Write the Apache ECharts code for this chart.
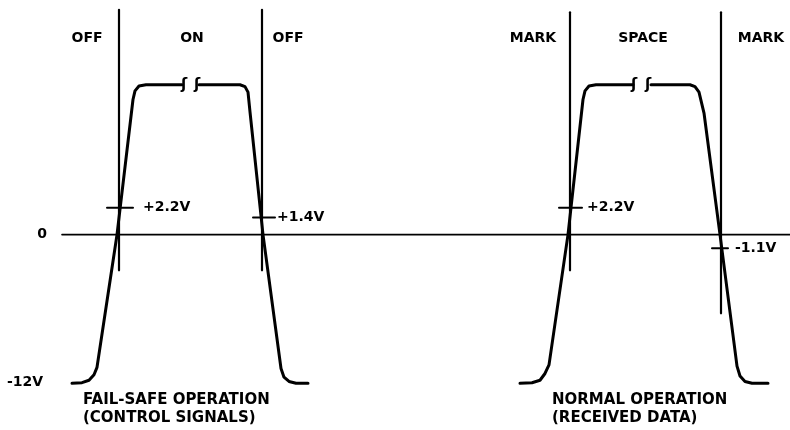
<!DOCTYPE html>
<html>
<head>
<meta charset="utf-8">
<script src="https://cdn.jsdelivr.net/npm/echarts@6/dist/echarts.min.js"></script>
<style>
  html, body { margin: 0; padding: 0; background: #fff; }
  #main { width: 790px; height: 430px; }
</style>
</head>
<body>
<div id="main"></div>
<script>
// x = time (arbitrary units), y = volts
var failSafeRise = [[72,-12.1],[82,-12.05],[89,-11.85],[94,-11.4],[97,-10.8],[117,0],[133,11.0],[135,11.7],[139,12.1],[146,12.2],[182,12.2]];
var failSafeFall = [[199,12.2],[240,12.2],[245,12.05],[248,11.6],[250,10.0],[263,0],[281,-10.9],[284,-11.6],[289,-11.95],[296,-12.1],[308,-12.1]];
var normalRise = [[520,-12.1],[532,-12.05],[540,-11.85],[545,-11.3],[549,-10.6],[568,0],[583,11.0],[585,11.7],[589,12.1],[596,12.2],[633,12.2]];
var normalFall = [[651,12.2],[690,12.2],[695,12.05],[699,11.6],[704,9.9],[720,0],[737,-10.7],[740,-11.5],[745,-11.95],[752,-12.1],[768,-12.1]];

// vertical state boundaries: [time, top volts, bottom volts]
var dividers = [[119,18.3,-2.9],[262,18.3,-2.9],[570,18.1,-2.9],[721,18.1,-6.4]];

// threshold crossings
var thresholdVolts = [2.2, 1.4, 2.2, -1.1];
var thresholdSpans = [[107,133],[253,275],[559,582],[712,728]];
var thresholdLabels = ['+2.2V', '+1.4V', '+2.2V', '-1.1V'];
var thresholdLabelTimes = [143, 277, 587, 735];

var stateLabels = ['OFF', 'ON', 'OFF', 'MARK', 'SPACE', 'MARK'];
var stateTimes = [87, 192, 288, 533, 643, 761];
var stateLevel = 16;

var zeroLine = [[62,0],[790,0]];
var levelLabels = ['0', '-12V'];
var levelTimes = [42, 25];
var levelVolts = [0, -12];

var breakTimes = [184, 197, 634, 648];
var plateau = 12.2;

var captions = ['FAIL-SAFE OPERATION', '(CONTROL SIGNALS)', 'NORMAL OPERATION', '(RECEIVED DATA)'];
var captionTimes = [83, 83, 552, 552];
var captionVolts = [-13.45, -14.9, -13.45, -14.9];

var black = '#000';
var font = 'DejaVu Sans';

function lineSeries(data, width) {
  return {
    type: 'line', data: data, symbol: 'none', silent: true,
    lineStyle: { color: black, width: width, join: 'round', cap: 'round' }
  };
}

var series = [];
[failSafeRise, failSafeFall, normalRise, normalFall].forEach(function (d) {
  series.push(lineSeries(d, 3));
});
series.push(lineSeries(zeroLine, 1.6));
dividers.forEach(function (d) {
  series.push(lineSeries([[d[0], d[1]], [d[0], d[2]]], 2.2));
});
thresholdVolts.forEach(function (v, i) {
  series.push(lineSeries([[thresholdSpans[i][0], v], [thresholdSpans[i][1], v]], 2));
});

// text marks as invisible scatter points
function textSeries(points, size, pos) {
  return {
    type: 'scatter', symbolSize: 0, silent: true, data: points,
    itemStyle: { opacity: 1 },
    label: {
      show: true, position: pos, distance: 0,
      formatter: function (p) { return p.data.name; },
      color: black, fontFamily: font, fontWeight: 'bold', fontSize: size
    }
  };
}

var centered = [];
stateLabels.forEach(function (t, i) { centered.push({ name: t, value: [stateTimes[i], stateLevel] }); });
levelLabels.forEach(function (t, i) { centered.push({ name: t, value: [levelTimes[i], levelVolts[i]] }); });
series.push(textSeries(centered, 14, 'inside'));

var breaks = breakTimes.map(function (t) { return { name: 'ʃ', value: [t, plateau] }; });
series.push(textSeries(breaks, 15, 'inside'));

var leftText = [];
thresholdLabels.forEach(function (t, i) { leftText.push({ name: t, value: [thresholdLabelTimes[i], thresholdVolts[i]] }); });
series.push(textSeries(leftText, 14, 'right'));

var caps = captions.map(function (t, i) { return { name: t, value: [captionTimes[i], captionVolts[i]] }; });
series.push(textSeries(caps, 15, 'right'));

var chart = echarts.init(document.getElementById('main'));
chart.setOption({
  backgroundColor: '#fff',
  animation: false,
  grid: { left: 0, right: 0, top: 0, bottom: 0 },
  xAxis: { type: 'value', min: 0, max: 790, show: false },
  yAxis: { type: 'value', min: -15.9, max: 19.1, show: false },
  series: series
});
</script>
</body>
</html>
